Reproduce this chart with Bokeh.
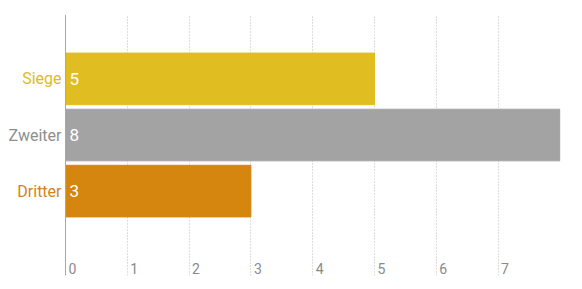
from bokeh.plotting import figure
from bokeh.models import Range1d, FixedTicker, ColumnDataSource
from bokeh.core.properties import value
from bokeh.embed import file_html
from bokeh.resources import INLINE

categories = ["Siege", "Zweiter", "Dritter"]
counts = [5, 8, 3]
bar_colors = ["#E0BE22", "#A3A3A3", "#D5860E"]
label_colors = ["#DDBB22", "#8E8E8E", "#D2841A"]
x_ticks = [0, 1, 2, 3, 4, 5, 6, 7]

n = len(categories)
ypos = list(range(n, 0, -1))

ppu = 495 / 8.01
x0 = -65 / ppu
y_lo, y_hi = -0.504, n + 1.148

src = ColumnDataSource(dict(y=ypos, v=counts, c=bar_colors, t=[str(v) for v in counts],
                            cat=categories, lc=label_colors))
tick_src = ColumnDataSource(dict(x=x_ticks, y=[y_lo] * len(x_ticks), t=[str(t) for t in x_ticks]))

p = figure(width=582, height=289, output_backend="svg", toolbar_location=None,
           x_range=Range1d(x0, 8.01), y_range=Range1d(y_lo, y_hi),
           min_border_left=0, min_border_right=22, min_border_top=14, min_border_bottom=14)
p.outline_line_color = None
p.background_fill_color = "white"
p.border_fill_color = "white"
p.xaxis.visible = False
p.yaxis.visible = False
p.ygrid.visible = False

p.xgrid.ticker = FixedTicker(ticks=x_ticks)
p.xgrid.grid_line_color = "#BDBDBD"
p.xgrid.grid_line_dash = "1 2"
p.xgrid.grid_line_width = 1

p.hbar(y="y", left=0, right="v", height=0.92, color="c", source=src)
p.segment(x0=[0], y0=[y_lo], x1=[0], y1=[y_hi], line_color="#A8A8A8", line_width=1)

p.text(x=0, y="y", text="t", source=src, x_offset=4, text_baseline="middle",
       text_align="left", text_color="white", text_font=value("Roboto"), text_font_size="17px")
p.text(x=0, y="y", text="cat", source=src, x_offset=-4, text_baseline="middle",
       text_align="right", text_color="lc", text_font=value("Roboto"), text_font_size="16px")
p.text(x="x", y="y", text="t", source=tick_src, x_offset=3, y_offset=-7, text_baseline="middle",
       text_align="left", text_color="#8A8A8A", text_font=value("Roboto"), text_font_size="14px")

open("out.html", "w").write(file_html(p, INLINE))
